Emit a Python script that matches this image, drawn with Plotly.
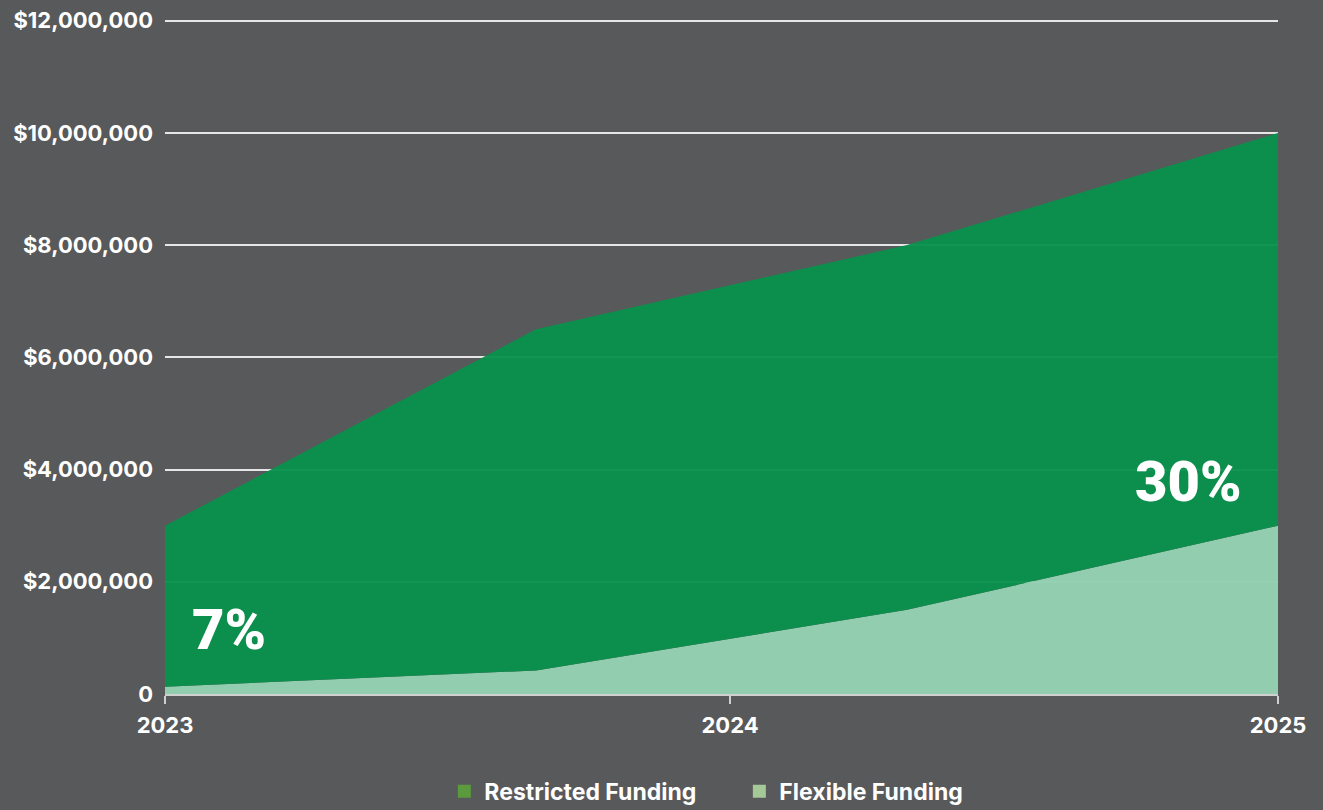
import plotly.graph_objects as go

# ---- data ----
x_pos = [0, 1, 2, 3]
flexible = [130000, 420000, 1500000, 3000000]
total = [3000000, 6500000, 8000000, 10000000]
restricted = [t - f for t, f in zip(total, flexible)]
tick_pos = [0, 1.523, 3]
tick_labels = ["2023", "2024", "2025"]
y_ticks = [0, 2000000, 4000000, 6000000, 8000000, 10000000, 12000000]
y_tick_labels = ["0", "$2,000,000", "$4,000,000", "$6,000,000", "$8,000,000", "$10,000,000", "$12,000,000"]
pct_labels = ["7%", "30%"]
pct_x = [0.1725, 2.76]
pct_y = [1140000, 3780000]

BG = "#58595b"
C_RESTRICTED = "rgba(9,145,76,0.96)"
C_FLEXIBLE = "rgba(147,207,176,0.98)"
L_RESTRICTED = "#5b9a3d"
L_FLEXIBLE = "#a4c997"
FONT = "Inter"
PCT_FONT = "'Liberation Sans Narrow', 'Arial Narrow', Roboto, sans-serif"

fig = go.Figure()
fig.add_trace(go.Scatter(x=x_pos, y=flexible, mode="none", stackgroup="one",
                         fillcolor=C_FLEXIBLE, showlegend=False, hoverinfo="skip"))
fig.add_trace(go.Scatter(x=x_pos, y=restricted, mode="none", stackgroup="one",
                         fillcolor=C_RESTRICTED, showlegend=False, hoverinfo="skip"))
# legend entries
fig.add_trace(go.Scatter(x=[None], y=[None], mode="markers", name="Restricted Funding",
                         marker=dict(symbol="square", size=13, color=L_RESTRICTED)))
fig.add_trace(go.Scatter(x=[None], y=[None], mode="markers", name="Flexible Funding",
                         marker=dict(symbol="square", size=13, color=L_FLEXIBLE)))

for t, xx, yy in zip(pct_labels, pct_x, pct_y):
    fig.add_annotation(x=xx, y=yy, text=t, showarrow=False,
                       font=dict(family=PCT_FONT, size=56, color="white", weight=900))

fig.update_layout(
    width=1323, height=810,
    paper_bgcolor=BG, plot_bgcolor=BG,
    margin=dict(l=165, r=45, t=19, b=116, autoexpand=False),
    font=dict(family=FONT, color="white", size=20, weight="bold"),
    legend=dict(orientation="h", traceorder="normal", x=0.251, xanchor="left",
                y=-0.144, yanchor="middle",
                font=dict(family=FONT, size=23, color="white", weight="bold"),
                itemwidth=30, entrywidth=250, bgcolor="rgba(0,0,0,0)"),
    xaxis=dict(range=[0, 3], tickvals=tick_pos, ticktext=tick_labels, showgrid=False,
               zeroline=False, showline=True, linecolor="#cfcfcf", linewidth=2,
               ticks="outside", ticklen=8, tickwidth=1.5, tickcolor="#cfcfcf",
               tickfont=dict(family=FONT, size=22, color="white", weight="bold"),
               ticklabelstandoff=3),
    yaxis=dict(range=[0, 12030000], tickvals=y_ticks, ticktext=y_tick_labels,
               showgrid=True, gridcolor="#e6e6e6", gridwidth=1.5, zeroline=False,
               showline=False, ticks="", ticklabelstandoff=11,
               tickfont=dict(family=FONT, size=22, color="white", weight="bold")),
)

fig.write_html("out.html")
